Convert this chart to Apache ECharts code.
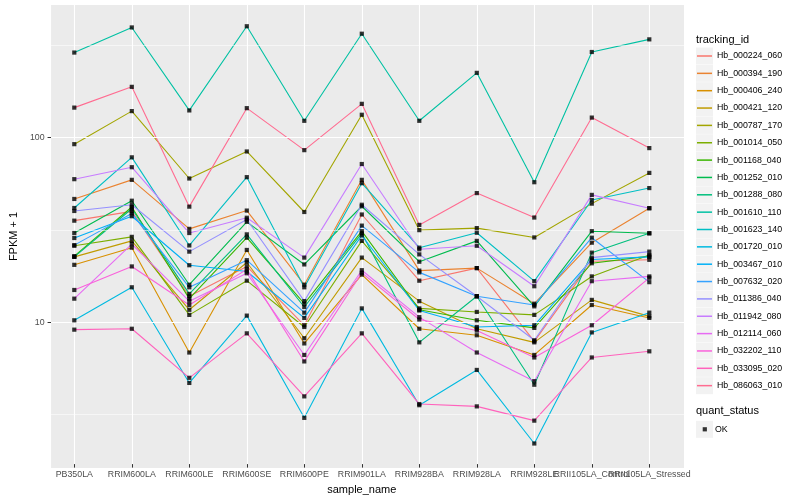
<!DOCTYPE html>
<html>
<head>
<meta charset="utf-8">
<script src="https://cdn.jsdelivr.net/npm/echarts@6/dist/echarts.min.js"></script>
<style>html,body{margin:0;padding:0;background:#fff}#c{width:800px;height:500px}</style>
</head>
<body>
<div id="c"></div>
<script>
// ---- data (values plotted as FPKM + 1) ----
const categories = ['PB350LA','RRIM600LA','RRIM600LE','RRIM600SE','RRIM600PE','RRIM901LA','RRIM928BA','RRIM928LA','RRIM928LE','RRII105LA_Control','RRII105LA_Stressed'];
const trackingIds = ['Hb_000224_060','Hb_000394_190','Hb_000406_240','Hb_000421_120','Hb_000787_170','Hb_001014_050','Hb_001168_040','Hb_001252_010','Hb_001288_080','Hb_001610_110','Hb_001623_140','Hb_001720_010','Hb_003467_010','Hb_007632_020','Hb_011386_040','Hb_011942_080','Hb_012114_060','Hb_032202_110','Hb_033095_020','Hb_086063_010'];
const Hb_000224_060 = [34.7, 39.0, 13.4, 19.5, 9.3, 37.5, 16.3, 19.1, 7.6, 20.8, 21.2];
const Hb_000394_190 = [45.6, 58.0, 31.3, 39.4, 15.5, 58.0, 18.5, 19.1, 12.2, 26.3, 40.6];
const Hb_000406_240 = [19.9, 24.7, 6.6, 24.0, 7.4, 17.6, 8.9, 8.2, 6.4, 12.0, 10.2];
const Hb_000421_120 = [22.0, 26.9, 11.3, 20.5, 7.9, 21.8, 12.6, 8.9, 7.5, 12.8, 10.4];
const Hb_000787_170 = [90.9, 137.8, 59.0, 82.9, 38.7, 131.6, 30.8, 31.6, 28.1, 43.0, 63.3];
const Hb_001014_050 = [25.3, 28.3, 10.6, 16.3, 9.1, 26.9, 11.5, 11.0, 10.6, 17.2, 22.5];
const Hb_001168_040 = [22.2, 41.2, 13.0, 28.0, 12.2, 30.4, 11.3, 9.9, 9.0, 20.3, 22.2];
const Hb_001252_010 = [29.7, 44.6, 15.5, 34.2, 20.0, 41.6, 20.7, 26.9, 11.8, 30.4, 29.6];
const Hb_001288_080 = [22.0, 40.3, 13.8, 29.2, 11.7, 29.6, 7.5, 13.4, 4.4, 23.2, 29.6];
const Hb_001610_110 = [288, 395, 139, 401, 122, 365, 122, 223, 56.3, 290, 340];
const Hb_001623_140 = [40.7, 77.0, 25.4, 60.0, 15.0, 55.6, 24.7, 29.8, 16.2, 45.0, 52.3];
const Hb_001720_010 = [9.9, 15.0, 4.5, 10.5, 2.9, 11.5, 3.4, 5.3, 2.1, 8.5, 10.9];
const Hb_003467_010 = [27.9, 36.7, 19.8, 18.3, 10.2, 28.8, 11.2, 9.1, 9.3, 21.3, 22.0];
const Hb_007632_020 = [25.5, 38.0, 15.0, 21.1, 10.9, 32.6, 18.1, 13.4, 12.0, 28.0, 16.0];
const Hb_011386_040 = [39.2, 42.4, 23.5, 35.2, 12.6, 42.4, 22.7, 13.4, 7.7, 21.8, 23.5];
const Hb_011942_080 = [58.5, 68.0, 29.7, 36.0, 21.8, 70.8, 24.2, 25.3, 15.2, 48.0, 40.6];
const Hb_012114_060 = [13.0, 25.8, 12.6, 17.9, 6.4, 18.6, 10.3, 6.6, 4.6, 16.2, 17.2];
const Hb_032202_110 = [14.5, 19.5, 12.0, 18.8, 5.9, 18.0, 10.0, 8.7, 6.2, 9.3, 16.9];
const Hb_033095_020 = [8.8, 8.9, 4.8, 8.4, 3.8, 8.4, 3.45, 3.35, 2.8, 6.2, 6.7];
const Hb_086063_010 = [144, 187, 41.4, 143, 84.3, 151, 32.9, 49.1, 36.1, 127, 86.5];
const yTicks = [10, 100];
const yMinor = [3.162, 31.62, 316.2];
const yRange = [1.62, 524];

const seriesValues = [Hb_000224_060,Hb_000394_190,Hb_000406_240,Hb_000421_120,Hb_000787_170,Hb_001014_050,Hb_001168_040,Hb_001252_010,Hb_001288_080,Hb_001610_110,Hb_001623_140,Hb_001720_010,Hb_003467_010,Hb_007632_020,Hb_011386_040,Hb_011942_080,Hb_012114_060,Hb_032202_110,Hb_033095_020,Hb_086063_010];
const colors = ['#F8766D','#EA8331','#D89000','#C09B00','#A3A500','#7CAE00','#39B600','#00BB4E','#00BF7D','#00C1A3','#00BFC4','#00BAE0','#00B0F6','#35A2FF','#9590FF','#C77CFF','#E76BF3','#FA62DB','#FF62BC','#FF6C91'];

const FONT = 'Liberation Sans, Arial, Helvetica, sans-serif';
const chart = echarts.init(document.getElementById('c'), null, {renderer: 'canvas'});

const series = [];
// background-grid helper series carrying the horizontal grid lines
series.push({
  type: 'line', xAxisIndex: 0, yAxisIndex: 0, data: [], silent: true,
  markLine: {
    silent: true, symbol: 'none', animation: false, label: {show: false},
    data: yMinor.map(v => ({yAxis: v, lineStyle: {color: '#fff', width: 0.55, type: 'solid'}}))
      .concat(yTicks.map(v => ({yAxis: v, lineStyle: {color: '#fff', width: 1.1, type: 'solid'}})))
  }
});
trackingIds.forEach((id, i) => {
  series.push({
    name: id, type: 'line', xAxisIndex: 1, yAxisIndex: 1,
    data: seriesValues[i], symbol: 'none', showSymbol: false,
    lineStyle: {color: colors[i], width: 1.1}, itemStyle: {color: colors[i]},
    animation: false, z: 3
  });
});
const pts = [];
seriesValues.forEach(arr => arr.forEach((v, j) => pts.push([j, v])));
series.push({
  name: 'OK', type: 'scatter', xAxisIndex: 1, yAxisIndex: 1, data: pts,
  symbol: 'rect', symbolSize: 4.2, itemStyle: {color: '#000'}, animation: false, z: 5
});

const keyBoxes = trackingIds.map((id, i) => ({
  type: 'rect', left: 696, top: 47.5 + i * 17.35, z: -1,
  shape: {width: 17, height: 17}, style: {fill: '#F2F2F2'}
}));
keyBoxes.push({type: 'rect', left: 696, top: 420.8, z: -1, shape: {width: 17, height: 17}, style: {fill: '#F2F2F2'}});

chart.setOption({
  backgroundColor: '#fff',
  animation: false,
  textStyle: {fontFamily: FONT},
  title: [
    {text: 'tracking_id', left: 696, top: 34, padding: 0, textStyle: {fontFamily: FONT, fontSize: 11, fontWeight: 'normal', color: '#000'}},
    {text: 'quant_status', left: 696, top: 405, padding: 0, textStyle: {fontFamily: FONT, fontSize: 11, fontWeight: 'normal', color: '#000'}}
  ],
  graphic: keyBoxes,
  legend: [
    {
      data: trackingIds, orient: 'vertical', left: 697, top: 47.5, padding: 0,
      itemWidth: 15, itemHeight: 17, itemGap: 0.35, selectedMode: false,
      icon: 'path://M0,0H15V1.5H0Z', symbolKeepAspect: true,
      textStyle: {fontFamily: FONT, fontSize: 8.8, color: '#000', lineHeight: 17, height: 17, verticalAlign: 'middle'}
    },
    {
      data: ['OK'], orient: 'vertical', left: 702.7, top: 420.8, padding: 0,
      itemWidth: 4.2, itemHeight: 4.2, selectedMode: false, icon: 'rect',
      itemStyle: {color: '#000'},
      textStyle: {fontFamily: FONT, fontSize: 8.8, color: '#000', lineHeight: 17, height: 17, verticalAlign: 'middle', padding: [0, 0, 0, 3]}
    }
  ],
  grid: [
    {left: 40, right: 116, top: 5, bottom: 32, show: true, backgroundColor: '#EBEBEB', borderWidth: 0},
    {left: 74.3, right: 150.7, top: 5, bottom: 32, show: false}
  ],
  xAxis: [
    {type: 'value', gridIndex: 0, min: 0, max: 1, show: false},
    {
      type: 'category', gridIndex: 1, data: categories, boundaryGap: false,
      axisLine: {show: false},
      axisTick: {show: true, length: 3.5, interval: 0, lineStyle: {color: '#333', width: 1}},
      axisLabel: {interval: 0, color: '#4D4D4D', fontSize: 8.8, margin: 6, fontFamily: FONT},
      splitLine: {show: true, interval: 0, lineStyle: {color: '#fff', width: 1.1}},
      name: 'sample_name', nameLocation: 'middle', nameGap: 14.5,
      nameTextStyle: {color: '#000', fontSize: 11, fontFamily: FONT}
    }
  ],
  yAxis: [
    {
      type: 'log', logBase: 10, gridIndex: 0, min: yRange[0], max: yRange[1],
      axisLine: {show: false},
      axisTick: {show: true, length: 3.5, customValues: yTicks, lineStyle: {color: '#333'}},
      axisLabel: {color: '#4D4D4D', fontSize: 8.8, margin: 6.5, fontFamily: FONT, customValues: yTicks,
        formatter: v => (yTicks.some(t => Math.abs(t - v) / t < 1e-6) ? String(Math.round(v)) : '')},
      splitLine: {show: false},
      name: 'FPKM + 1', nameLocation: 'middle', nameGap: 23, nameRotate: 90,
      nameTextStyle: {color: '#000', fontSize: 11, fontFamily: FONT}
    },
    {type: 'log', logBase: 10, gridIndex: 1, min: yRange[0], max: yRange[1], show: false, splitLine: {show: false}}
  ],
  series: series
});
</script>
</body>
</html>
